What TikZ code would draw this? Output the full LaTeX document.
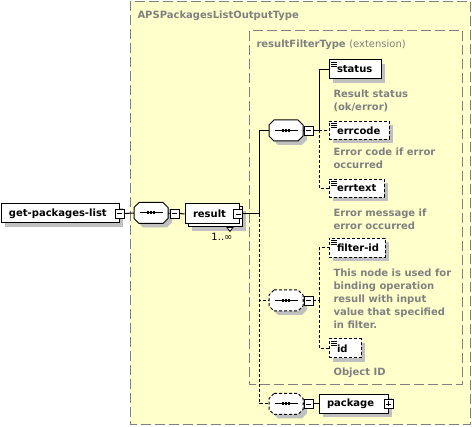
\documentclass[tikz,border=0pt]{standalone}
\usepackage{fontspec}
\setmainfont{DejaVu Sans}
\usetikzlibrary{shadows}
\definecolor{bgyellow}{RGB}{255,255,204}
\definecolor{framegray}{RGB}{128,128,128}
\definecolor{shadowgray}{RGB}{192,192,192}
\definecolor{descgray}{RGB}{128,128,128}
\newcommand\elname[2]{\makebox[#1][l]{\hspace*{8pt}#2}}
% octagon round a named node #1, shifted by #2 (right) and #2 (down)
\newcommand\octpath[2]{([xshift=5pt+#2,yshift=-#2]#1.north west) -- ([xshift=-5pt+#2,yshift=-#2]#1.north east) -- ([xshift=#2,yshift=-5pt-#2]#1.north east) -- ([xshift=#2,yshift=5pt-#2]#1.south east) -- ([xshift=-5pt+#2,yshift=-#2]#1.south east) -- ([xshift=5pt+#2,yshift=-#2]#1.south west) -- ([xshift=#2,yshift=5pt-#2]#1.south west) -- ([xshift=#2,yshift=-5pt-#2]#1.north west) -- cycle}
\newcommand\seqmark[1]{%
  \draw[solid,line width=1pt] ([xshift=-11.5pt]#1.center) -- ([xshift=11.5pt]#1.center);
  \foreach \dx in {-3,0,3}{%
    \fill ([xshift=\dx pt-1.1pt,yshift=-1.5pt]#1.center) rectangle ([xshift=\dx pt+1.1pt,yshift=1.5pt]#1.center);}}
\tikzset{
  shadowed/.style={drop shadow={shadow xshift=4pt,shadow yshift=-4pt,fill=shadowgray,opacity=1}},
  plainbox/.style={draw=black,fill=white,minimum height=19pt,inner sep=0pt,
    font=\fontsize{10}{13}\selectfont\bfseries},
  elbox/.style={plainbox,shadowed},
  optbox/.style={elbox,dash pattern=on 3pt off 2pt},
  icon/.style={path picture={
    \foreach \dy in {2,4,6}{
      \draw[solid,line width=0.8pt] ([xshift=2pt,yshift=-\dy pt]path picture bounding box.north west) -- ([xshift=8pt,yshift=-\dy pt]path picture bounding box.north west);}}},
  seqslot/.style={inner sep=0pt,minimum width=33pt,minimum height=20pt},
  seqline/.style={draw=black,fill=white,line width=1pt},
  seqshadow/.style={fill=shadowgray},
  optseqline/.style={seqline,dash pattern=on 3pt off 2pt},
  minusbox/.style={draw=black,fill=white,minimum size=9pt,inner sep=0pt,line width=0.9pt,
    path picture={\draw[solid,line width=0.9pt] ([xshift=-2.5pt]path picture bounding box.center) -- ([xshift=2.5pt]path picture bounding box.center);}},
  plussign/.style={path picture={
    \draw[solid,line width=0.9pt] ([xshift=-2.5pt]path picture bounding box.center) -- ([xshift=2.5pt]path picture bounding box.center);
    \draw[solid,line width=0.9pt] ([yshift=-2.5pt]path picture bounding box.center) -- ([yshift=2.5pt]path picture bounding box.center);}},
  optline/.style={dash pattern=on 3pt off 2pt},
  frame/.style={draw=framegray,fill=bgyellow,line width=1pt,dash pattern=on 10pt off 4pt},
  desc/.style={anchor=base west,inner sep=0pt,align=left,text=descgray,
    font=\fontsize{10}{13}\selectfont\bfseries},
  title/.style={anchor=base west,inner sep=0pt,text=framegray,
    font=\fontsize{10}{13}\selectfont\bfseries}
}
\begin{document}
\begin{tikzpicture}[x=1pt,y=-1pt,line width=1pt,font=\fontsize{10}{13}\selectfont]
\useasboundingbox (0,0) rectangle (472,427);
% type frames
\path[frame] (130,1.5) rectangle (470,425);
\node[title] (t1) at (137,19) {APSPackagesListOutputType};
\path[frame] (249.5,31) rectangle (462,385);
\node[title] (t2) at (256,48) {resultFilterType \mdseries(extension)};

% root element
\node[elbox] (gpl) at (60,213.5) {\elname{118pt}{get-packages-list}};
\node[minusbox] (mgpl) at (gpl.east) {};
\node[seqslot] (c0) at (151,213) {};
\fill[seqshadow] \octpath{c0}{4pt};
\path[seqline] \octpath{c0}{0pt};
\seqmark{c0}
\node[minusbox] (mc0) at (174.5,213.5) {};

% result (1..inf)
\node[elbox,minimum height=20pt] (resb) at (215,217) {\makebox[54pt]{}};
\node[plainbox,minimum height=20pt] (res) at (212,214) {\elname{54pt}{result}};
\draw[fill=white,line width=0.8pt] ([xshift=12pt]resb.south) -- ([xshift=18pt]resb.south) -- ([xshift=15pt,yshift=-4pt]resb.south) -- cycle;
\node[minusbox] (mres) at (238,214) {};
\node[inner sep=0pt] (occ) at (222,237) {1..∞};
\coordinate (j) at (259.5,214);

% first sequence
\node[seqslot] (c1) at (286,130.5) {};
\fill[seqshadow] \octpath{c1}{4pt};
\path[seqline] \octpath{c1}{0pt};
\seqmark{c1}
\node[minusbox] (mc1) at (308.5,130.5) {};
\coordinate (k1) at (319,130.5);
\node[elbox,icon] (status) at (355,69.5) {\elname{52pt}{status}};
\node[desc] (d1) at (333,110.5) {Result status\\(ok/error)};
\node[optbox,icon,minimum height=18pt] (errcode) at (359,130.5) {\elname{60pt}{errcode}};
\node[desc] (d2) at (333,169) {Error code if error\\occurred};
\node[optbox,icon,minimum height=18pt] (errtext) at (356.5,188.5) {\elname{55pt}{errtext}};
\node[desc] (d3) at (333,229.7) {Error message if\\error occurred};

% second sequence
\node[seqslot] (c2) at (286,300.5) {};
\fill[seqshadow] \octpath{c2}{4pt};
\path[optseqline] \octpath{c2}{0pt};
\seqmark{c2}
\node[minusbox] (mc2) at (308.5,300.5) {};
\coordinate (k2) at (319,300.5);
\node[optbox,icon] (filterid) at (357,248) {\elname{56pt}{filter-id}};
\node[desc] (d4) at (333,328.7) {This node is used for\\binding operation\\resull with input\\value that specified\\in filter.};
\node[optbox,icon] (id) at (345,348.5) {\elname{32pt}{id}};
\node[desc] (d5) at (333,375.5) {Object ID};

% third sequence
\node[seqslot] (c3) at (286,404) {};
\fill[seqshadow] \octpath{c3}{4pt};
\path[optseqline] \octpath{c3}{0pt};
\seqmark{c3}
\node[minusbox] (mc3) at (308.5,404) {};
\node[elbox] (package) at (353.5,404) {\elname{69pt}{package}};
\node[minusbox,plussign] (ppkg) at (package.east) {};

% connectors
\draw (mgpl.east) -- (c0.west);
\draw (c0.east) -- (mc0.west);
\draw (mc0.east) -- (res.west);
\draw (mres.east) -- (j);
\draw (j) |- (c1.west);
\draw[optline] (j) |- (c2.west);
\draw[optline] (j) |- (c3.west);
\draw (c1.east) -- (mc1.west);
\draw (mc1.east) -- (k1);
\draw (k1) |- (status.west);
\draw[optline] (k1) |- (errcode.west);
\draw[optline] (k1) |- (errtext.west);
\draw[optline] (c2.east) -- (mc2.west);
\draw[optline] (mc2.east) -- (k2);
\draw[optline] (k2) |- (filterid.west);
\draw[optline] (k2) |- (id.west);
\draw[optline] (c3.east) -- (mc3.west);
\draw (mc3.east) -- (package.west);
\end{tikzpicture}
\end{document}
